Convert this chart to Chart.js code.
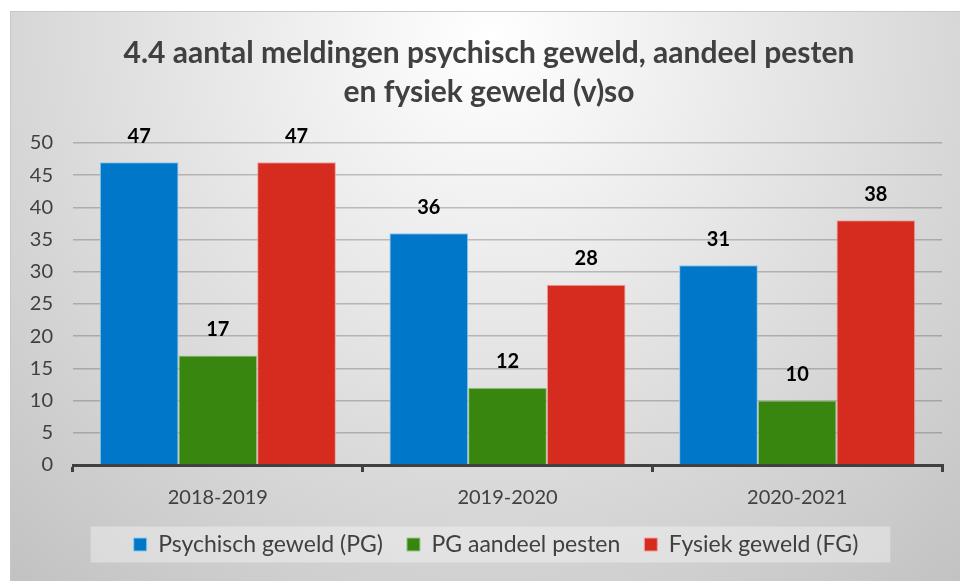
<!DOCTYPE html>
<html>
<head>
<meta charset="utf-8">
<script src="https://cdn.jsdelivr.net/npm/chart.js@4.4.0/dist/chart.umd.min.js"></script>
<style>
  html, body { margin: 0; padding: 0; background: #fff; }
  #wrap { width: 960px; height: 581px; }
</style>
</head>
<body>
<div id="wrap"><canvas id="chart" width="960" height="581"></canvas></div>
<script>
const years = ['2018-2019', '2019-2020', '2020-2021'];
const psychischGeweld = [47, 36, 31];
const aandeelPesten = [17, 12, 10];
const fysiekGeweld = [47, 28, 38];
const yTicks = [0, 5, 10, 15, 20, 25, 30, 35, 40, 45, 50];

const FONT = 'Lato, "Open Sans", sans-serif';
const TEXT = '#404040';

// gradient backdrop + legend panel
const backdrop = {
    id: 'backdrop',
    afterLayout(chart) {
        // title and legend sit a little right of the canvas centre
        chart.titleBlock.left += 13;
        chart.titleBlock.right += 13;
        chart.legend.left += 20;
        chart.legend.right += 20;
    },
    beforeDraw(chart) {
        const c = chart.ctx;
        c.save();
        c.fillStyle = '#ffffff';
        c.fillRect(0, 0, chart.width, chart.height);
        const g = c.createRadialGradient(490, 40, 0, 490, 40, 720);
        g.addColorStop(0, '#ffffff');
        g.addColorStop(1, '#c2c2c2');
        c.fillStyle = g;
        c.fillRect(10, 11, chart.width - 10, chart.height - 11);
        c.strokeStyle = '#c8c8c8';
        c.lineWidth = 1;
        c.beginPath();
        c.moveTo(10.5, chart.height);
        c.lineTo(10.5, 11.5);
        c.lineTo(chart.width, 11.5);
        c.stroke();

        const boxes = chart.legend && chart.legend.legendHitBoxes;
        if (boxes && boxes.length) {
            const first = boxes[0], last = boxes[boxes.length - 1];
            const x0 = first.left - 43, x1 = last.left + last.width + 32;
            const yMid = first.top + first.height / 2;
            c.fillStyle = 'rgba(255,255,255,0.35)';
            c.fillRect(x0, yMid - 18, x1 - x0, 36);
        }
        c.restore();
    }
};

// value labels above bars
const valueLabels = {
    id: 'valueLabels',
    afterDatasetsDraw(chart) {
        const c = chart.ctx;
        c.save();
        c.font = 'bold 20px ' + FONT;
        c.fillStyle = '#000';
        c.textAlign = 'center';
        c.textBaseline = 'middle';
        chart.data.datasets.forEach((ds, i) => {
            chart.getDatasetMeta(i).data.forEach((bar, j) => {
                c.fillText(ds.data[j], bar.x, bar.y - 26);
            });
        });
        c.restore();
    }
};

new Chart(document.getElementById('chart').getContext('2d'), {
    type: 'bar',
    data: {
        labels: years,
        datasets: [{
            label: 'Psychisch geweld (PG)',
            data: psychischGeweld,
            backgroundColor: '#0077c8',
            borderColor: '#8cc8ee',
            borderWidth: 1
        }, {
            label: 'PG aandeel pesten',
            data: aandeelPesten,
            backgroundColor: '#38850f',
            borderColor: '#9cc98a',
            borderWidth: 1
        }, {
            label: 'Fysiek geweld (FG)',
            data: fysiekGeweld,
            backgroundColor: '#d62b1f',
            borderColor: '#f0a29c',
            borderWidth: 1
        }]
    },
    options: {
        responsive: false,
        animation: false,
        datasets: { bar: { categoryPercentage: 0.815, barPercentage: 1 } },
        layout: { padding: { top: 11, left: 10, right: 18, bottom: 15 } },
        plugins: {
            title: {
                display: true,
                text: ['4.4 aantal meldingen psychisch geweld, aandeel pesten', 'en fysiek geweld (v)so'],
                color: TEXT,
                font: { family: FONT, size: 30, weight: 'bold', lineHeight: 1.3 },
                padding: { top: 23, bottom: 31 }
            },
            legend: {
                position: 'bottom',
                labels: {
                    color: TEXT,
                    font: { family: FONT, size: 23 },
                    boxWidth: 13,
                    boxHeight: 13,
                    padding: 24
                }
            },
            tooltip: { enabled: false }
        },
        scales: {
            x: {
                border: { color: TEXT, width: 3 },
                grid: { display: true, drawOnChartArea: false, drawTicks: true, tickLength: 7, color: TEXT, lineWidth: 3 },
                ticks: { color: TEXT, font: { family: FONT, size: 20 }, padding: 14 },
                afterFit(scale) { scale.height = 44; }
            },
            y: {
                min: 0,
                max: 50,
                border: { display: false },
                grid: { color: 'rgba(70,70,70,0.3)', lineWidth: 1.5, drawTicks: false },
                afterBuildTicks(scale) { scale.ticks = yTicks.map(v => ({ value: v })); },
                ticks: { color: TEXT, font: { family: FONT, size: 20 }, padding: 20 },
                afterFit(scale) { scale.width = 63; }
            }
        }
    },
    plugins: [backdrop, valueLabels]
});
</script>
</body>
</html>
